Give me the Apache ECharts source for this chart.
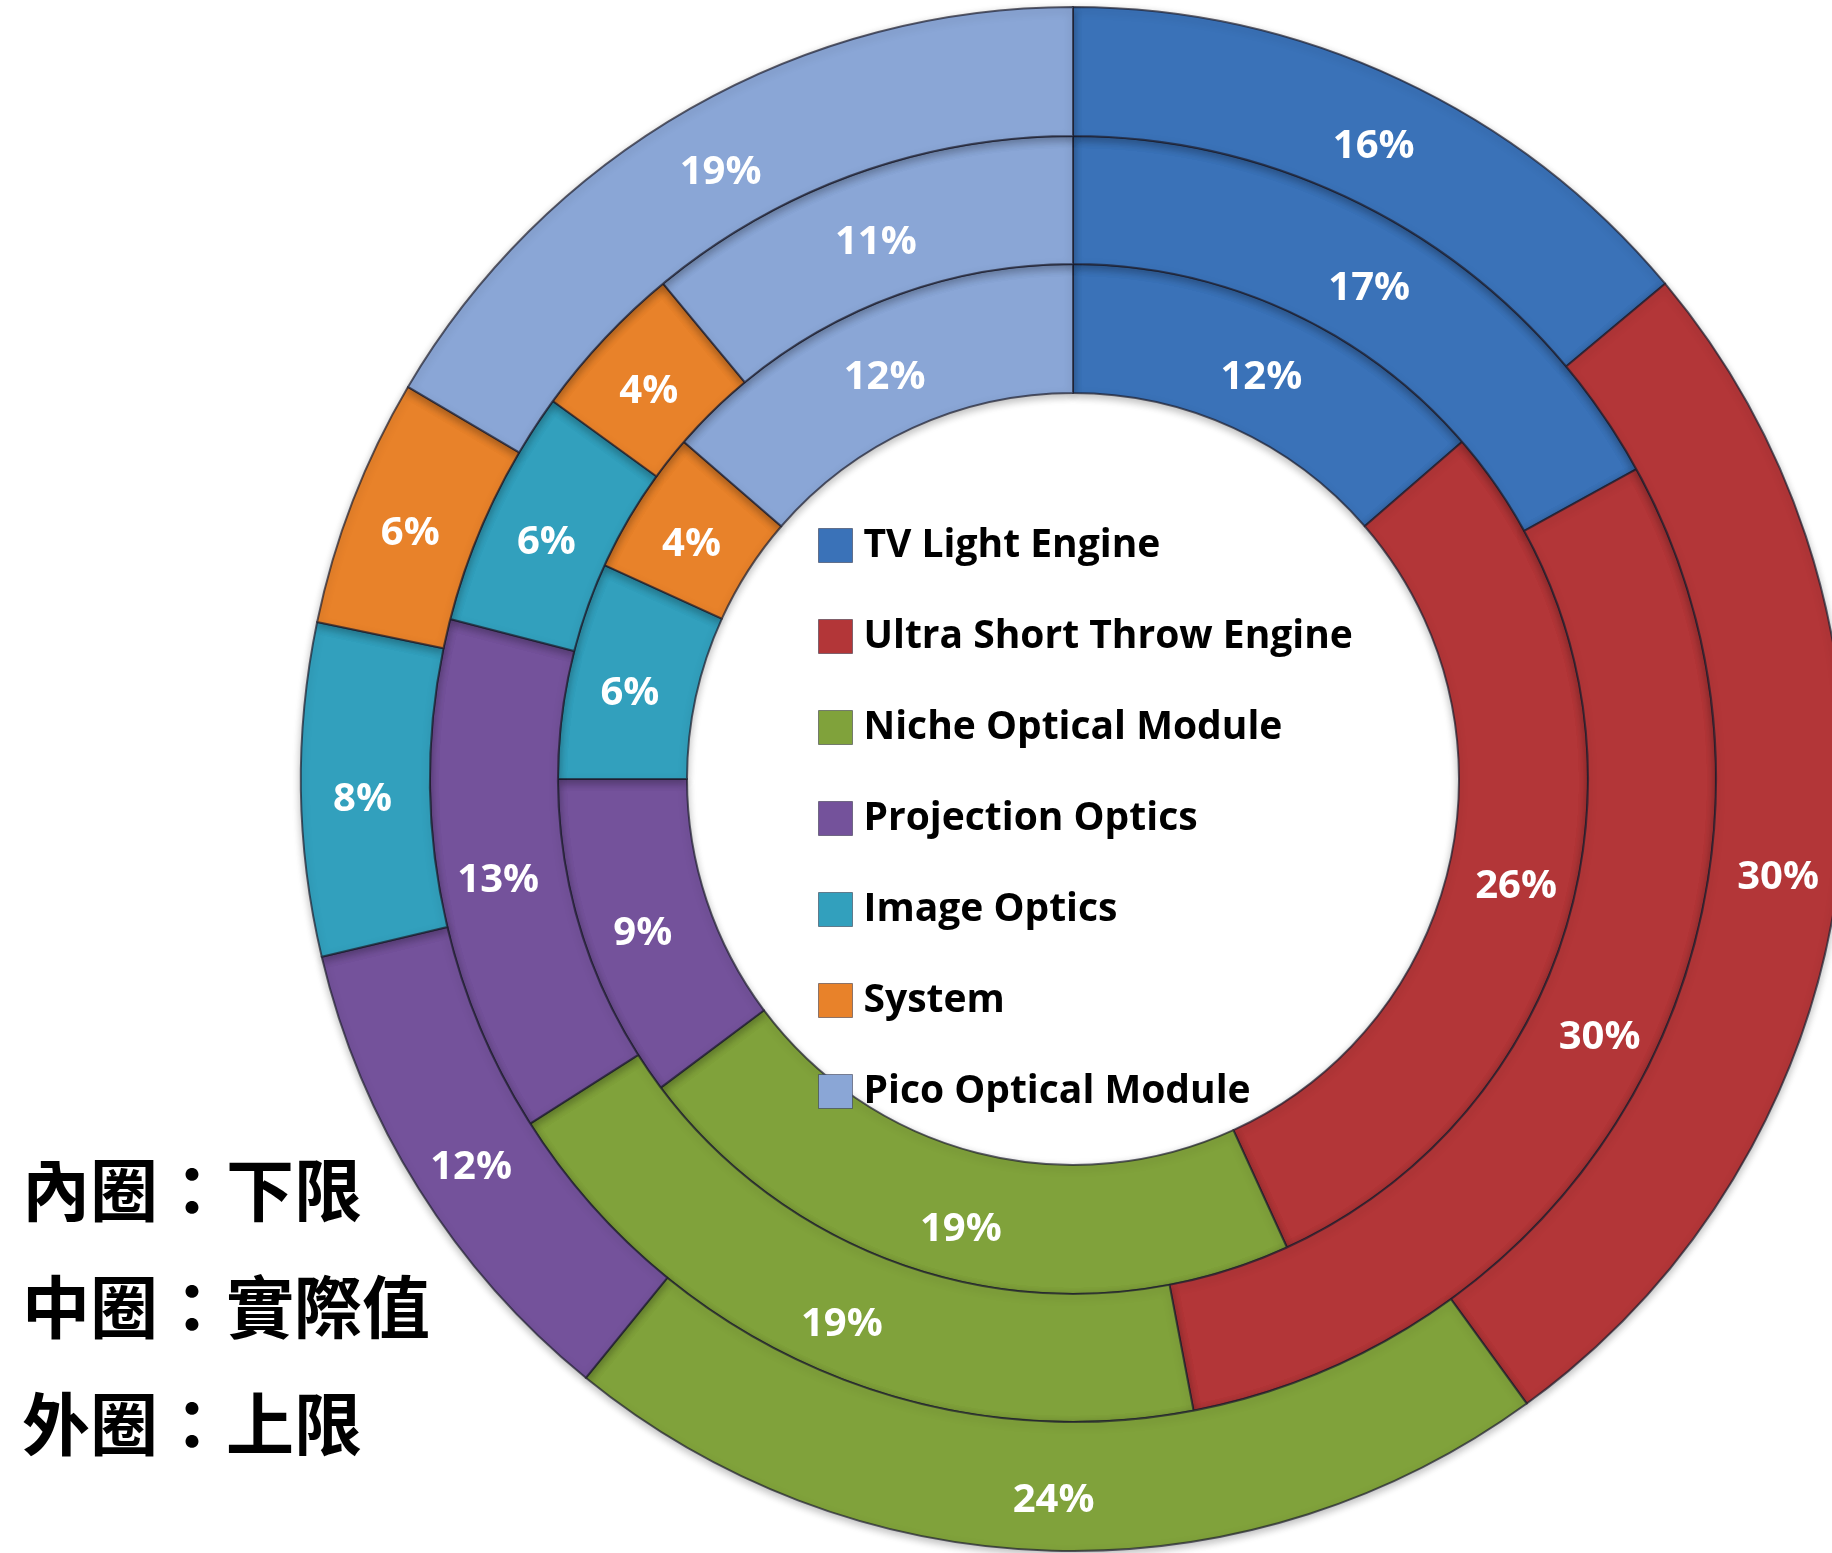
<!DOCTYPE html>
<html>
<head>
<meta charset="utf-8">
<script src="https://cdn.jsdelivr.net/npm/echarts@6/dist/echarts.min.js"></script>
<style>
html,body{margin:0;padding:0;background:#fff;}
#chart{width:1832px;height:1553px;}
</style>
</head>
<body>
<div id="chart"></div>
<script>
const categories = ['TV Light Engine', 'Ultra Short Throw Engine', 'Niche Optical Module', 'Projection Optics', 'Image Optics', 'System', 'Pico Optical Module'];
const innerLower = [12, 26, 19, 9, 6, 4, 12];
const middleActual = [17, 30, 19, 13, 6, 4, 11];
const outerUpper = [16, 30, 24, 12, 8, 6, 19];
const ringNotes = ['內圈：下限', '中圈：實際值', '外圈：上限'];
const palette = ['#3a72b8', '#b33638', '#80a23b', '#74529b', '#32a0bd', '#e8822a', '#8aa6d6'];

const center = [1073, 779];
const labelStyle = {
  show: true, position: 'inside', color: '#fff', fontFamily: 'Open Sans', fontWeight: 'bold', fontSize: 40,
  offset: [0, 11],
  formatter: p => p.value + '%'
};
function ring(name, values, radius) {
  return {
    type: 'pie', name: name, center: center, radius: radius, startAngle: 90, clockwise: true,
    avoidLabelOverlap: false, silent: true,
    itemStyle: {
      borderColor: 'rgba(30,30,45,0.7)', borderWidth: 2,
      shadowBlur: 8, shadowOffsetY: 3, shadowColor: 'rgba(0,0,0,0.28)'
    },
    label: labelStyle, labelLine: { show: false },
    emphasis: { disabled: true },
    data: categories.map((c, i) => ({ name: c, value: values[i] }))
  };
}

const chart = echarts.init(document.getElementById('chart'), null, { renderer: 'canvas' });
chart.setOption({
  animation: false,
  color: palette,
  legend: {
    orient: 'vertical', left: 818, top: 526, padding: 0,
    itemWidth: 34, itemHeight: 34, itemGap: 52, icon: 'rect',
    selectedMode: false,
    itemStyle: { borderColor: 'rgba(40,40,60,0.5)', borderWidth: 1 },
    textStyle: { fontFamily: 'Open Sans', fontWeight: 'bold', fontSize: 39, color: '#000', lineHeight: 34, padding: [4, 0, 0, 6] },
    data: categories
  },
  graphic: ringNotes.map((t, i) => ({
    type: 'text', left: 22, top: 1156 + i * 117,
    style: { text: t, fontFamily: 'Noto Sans CJK TC', fontSize: 68, fontWeight: 'bold', fill: '#000' }
  })),
  series: [
    ring('內圈：下限', innerLower, [386, 515]),
    ring('中圈：實際值', middleActual, [515, 643]),
    ring('外圈：上限', outerUpper, [643, 772])
  ]
});
</script>
</body>
</html>
